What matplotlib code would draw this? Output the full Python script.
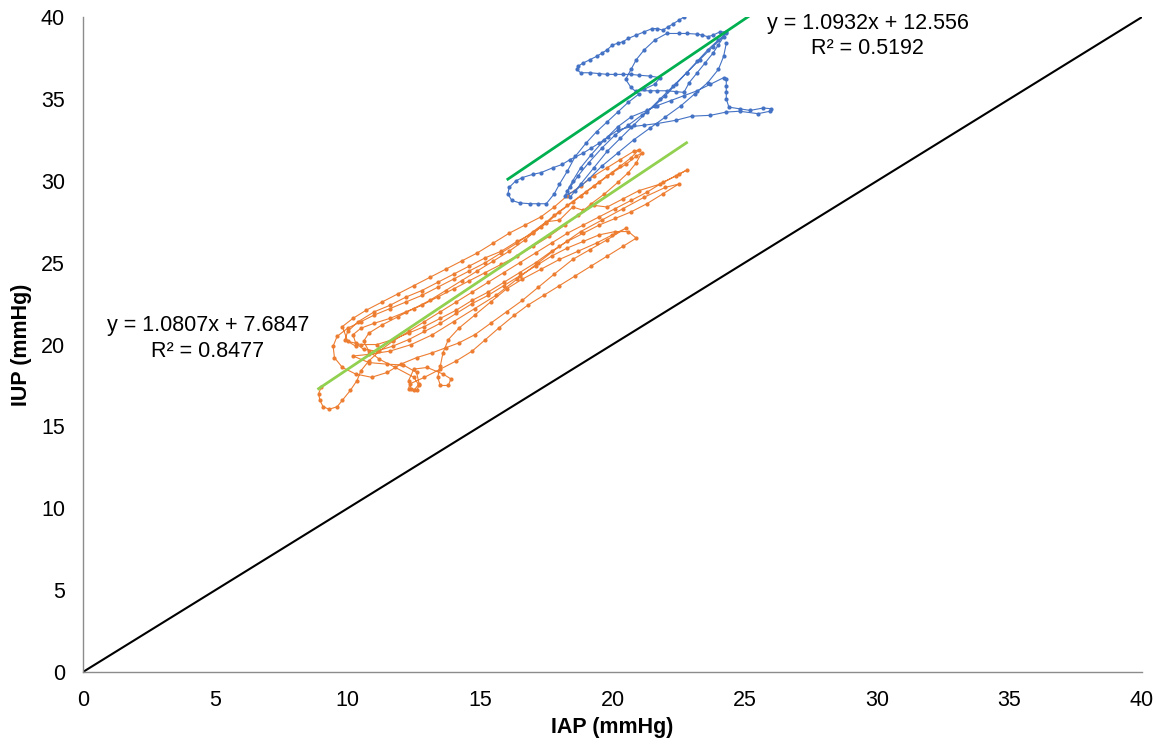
import matplotlib
matplotlib.use('Agg')
import matplotlib.pyplot as plt
import numpy as np

plt.rcParams['font.family'] = ['Liberation Sans', 'DejaVu Sans']

# IAP / IUP traces (mmHg)
blue_pts = [
    (22.7, 40.0), (22.5, 39.8), (22.3, 39.6), (22.1, 39.4), (21.9, 39.2), (21.7, 39.3), (21.5, 39.3),
    (21.2, 39.1), (20.9, 38.9), (20.6, 38.7), (20.4, 38.5), (20.2, 38.4), (20.0, 38.3), (19.8, 38.0),
    (19.6, 37.8), (19.4, 37.6), (19.15, 37.4), (18.9, 37.2), (18.7, 37.0), (18.66, 36.8), (18.8, 36.6),
    (19.15, 36.6), (19.5, 36.55), (19.8, 36.5), (20.1, 36.5), (20.4, 36.5), (20.7, 36.5), (21.0, 36.45),
    (21.4, 36.4), (21.8, 36.3), (21.6, 35.9), (21.2, 35.6), (20.9, 35.5), (21.4, 35.5), (21.7, 35.5),
    (22.05, 35.5), (22.4, 35.45), (22.7, 35.4), (22.9, 36.0), (23.2, 36.6), (23.5, 37.2), (23.8, 37.8),
    (24.0, 38.3), (24.2, 38.8), (24.3, 39.1), (24.06, 39.1), (23.8, 38.9), (23.6, 38.8), (23.4, 38.9),
    (23.2, 38.96), (22.8, 39.0), (22.5, 39.0), (22.05, 39.0), (21.6, 38.6), (21.2, 38.0), (20.9, 37.4),
    (20.7, 36.8), (20.5, 36.2), (20.7, 35.7), (21.0, 35.3), (20.6, 34.8), (20.2, 34.2), (19.8, 33.6),
    (19.4, 33.0), (19.0, 32.3), (18.6, 31.5), (18.3, 30.6), (18.0, 29.8), (17.8, 29.2), (17.5, 28.6),
    (17.2, 28.6), (16.9, 28.6), (16.5, 28.65), (16.2, 28.8), (16.05, 29.2), (16.1, 29.6), (16.35, 30.0),
    (16.6, 30.2), (17.0, 30.4), (17.3, 30.5), (17.75, 30.8), (18.1, 31.0), (18.4, 31.3), (18.9, 31.7),
    (19.2, 32.0), (19.5, 32.3), (19.85, 32.7), (20.2, 33.1), (20.7, 33.3), (21.2, 33.4), (21.7, 33.5),
    (22.4, 33.7), (23.0, 33.95), (23.7, 34.0), (24.3, 34.2), (24.8, 34.25), (25.5, 34.1), (25.95, 34.25),
    (26.0, 34.4), (25.7, 34.45), (25.2, 34.3), (24.8, 34.4), (24.4, 34.5), (24.3, 35.0), (24.3, 35.4),
    (24.3, 35.8), (24.3, 36.2), (24.2, 36.3), (23.7, 35.9), (23.2, 35.5), (22.7, 35.2), (22.2, 34.9),
    (21.7, 34.6), (21.3, 34.3), (20.7, 33.9), (20.2, 33.3), (19.7, 32.5), (19.2, 31.6), (18.8, 30.8),
    (18.5, 30.0), (18.3, 29.4), (18.4, 29.0), (18.8, 29.8), (19.3, 30.8), (19.8, 31.8), (20.3, 32.6),
    (20.8, 33.4), (21.3, 34.2), (21.8, 35.0), (22.3, 35.8), (22.8, 36.6), (23.3, 37.4), (23.8, 38.2),
    (24.3, 39.0), (24.0, 38.6), (23.6, 38.0), (23.2, 37.3), (22.8, 36.6), (22.4, 35.9), (22.0, 35.2),
    (21.6, 34.6), (21.1, 34.0), (20.6, 33.4), (20.1, 32.8), (19.6, 32.0), (19.1, 31.1), (18.7, 30.3),
    (18.4, 29.6), (18.2, 29.1), (18.6, 29.4), (19.1, 30.1), (19.6, 30.9), (20.2, 31.7), (20.8, 32.5),
    (21.4, 33.2), (22.0, 33.9), (22.6, 34.6), (23.1, 35.3), (23.6, 36.0), (24.0, 36.8), (24.2, 37.6),
    (24.3, 38.4),
]

orange_pts = [
    (9.0, 17.4), (8.9, 17.0), (8.95, 16.6), (9.07, 16.2), (9.3, 16.05), (9.6, 16.2), (9.8, 16.6),
    (10.1, 17.2), (10.35, 17.8), (10.5, 18.4), (10.8, 19.0), (11.2, 19.6), (11.7, 20.2), (12.3, 20.8),
    (12.9, 21.4), (13.5, 22.0), (14.1, 22.6), (14.7, 23.2), (15.3, 23.8), (15.9, 24.4), (16.5, 25.0),
    (17.1, 25.6), (17.7, 26.2), (18.3, 26.8), (18.9, 27.3), (19.5, 27.8), (20.1, 28.3), (20.7, 28.8),
    (21.3, 29.3), (21.9, 29.9), (22.4, 30.3), (22.8, 30.65),
    (22.5, 30.4), (21.8, 29.8), (21.0, 29.4), (20.4, 28.9), (19.8, 28.4), (19.3, 28.5), (18.9, 28.2),
    (18.5, 28.4), (18.0, 27.6), (17.5, 27.5), (17.0, 26.9), (16.4, 26.2), (15.8, 25.6), (15.2, 25.0),
    (14.6, 24.5), (14.0, 24.0), (13.4, 23.5), (12.8, 23.0), (12.2, 22.6), (11.6, 22.2), (11.0, 21.8),
    (10.5, 21.4), (10.0, 21.0), (9.6, 20.5), (9.45, 19.9), (9.5, 19.2), (9.8, 18.6), (10.3, 18.2),
    (10.9, 18.0), (11.5, 18.3), (12.0, 18.8),
    (12.6, 19.2), (13.2, 19.5), (13.7, 19.8), (14.2, 20.1), (14.8, 20.6), (15.4, 21.3), (16.0, 22.0),
    (16.6, 22.7), (17.2, 23.5), (17.8, 24.3), (18.5, 25.2), (19.15, 25.8), (19.8, 26.4), (20.5, 27.1),
    (20.0, 26.7), (19.4, 26.2), (18.7, 25.7), (18.0, 25.2), (17.3, 24.6), (16.6, 24.0), (16.0, 23.4),
    (15.4, 22.6), (14.8, 21.8), (14.2, 21.0), (13.8, 20.3), (13.6, 19.5), (13.5, 18.7), (13.4, 18.0),
    (13.5, 17.5), (13.8, 17.5), (13.9, 17.9), (13.6, 18.2), (13.0, 18.6), (12.5, 18.5), (12.3, 17.8),
    (12.4, 17.3), (12.6, 17.2), (12.7, 17.5), (12.5, 18.0),
    (11.8, 18.6), (11.2, 19.1), (10.8, 19.6), (10.6, 20.2), (10.8, 20.7), (11.3, 21.2), (11.9, 21.7),
    (12.5, 22.2), (13.1, 22.7), (13.7, 23.3), (14.3, 23.9), (14.9, 24.5), (15.5, 25.1), (16.1, 25.7),
    (16.7, 26.4), (17.3, 27.2), (17.8, 27.9), (18.3, 28.5), (18.8, 29.1), (19.3, 29.7), (19.8, 30.3),
    (20.3, 30.9), (20.7, 31.4), (21.0, 31.9),
    (20.8, 31.8), (20.3, 31.3), (19.8, 30.8), (19.3, 30.3), (18.8, 29.7), (18.3, 29.1), (17.8, 28.4),
    (17.3, 27.8), (16.7, 27.3), (16.1, 26.8), (15.5, 26.2), (14.9, 25.6), (14.3, 25.1), (13.7, 24.6),
    (13.1, 24.1), (12.5, 23.6), (11.9, 23.1), (11.3, 22.6), (10.7, 22.1), (10.2, 21.6), (9.8, 21.1),
    (10.0, 20.2), (10.5, 20.0), (11.1, 20.0), (11.7, 20.3), (12.3, 20.7), (12.9, 21.1), (13.5, 21.6),
    (14.1, 22.1), (14.7, 22.7), (15.3, 23.2), (15.9, 23.8), (16.5, 24.4), (17.1, 25.0), (17.7, 25.7),
    (18.3, 26.3), (18.9, 26.8), (19.5, 27.3), (20.1, 27.7), (20.7, 28.1), (21.3, 28.6), (21.9, 29.2),
    (22.5, 29.8),
    (22.0, 29.6), (21.2, 29.0), (20.4, 28.3), (19.6, 27.6), (18.8, 26.9), (18.0, 26.0), (17.2, 25.0),
    (16.4, 24.0), (15.6, 23.0), (14.8, 22.2), (14.0, 21.4), (13.2, 20.6), (12.4, 20.0), (11.6, 19.6),
    (10.8, 19.4), (10.2, 19.3),
    (10.8, 18.9), (11.5, 18.8), (12.1, 18.75), (12.6, 18.3), (12.7, 17.6), (12.5, 17.2), (12.3, 17.3),
    (12.35, 17.6), (12.9, 18.0), (13.5, 18.5), (14.1, 19.0), (14.7, 19.6), (15.2, 20.3), (15.7, 21.0),
    (16.3, 21.8), (16.8, 22.4), (17.4, 23.0), (18.0, 23.6), (18.6, 24.2), (19.2, 24.8), (19.8, 25.4),
    (20.4, 26.0), (20.9, 26.5),
    (20.6, 26.9), (20.1, 26.9), (19.5, 26.7), (18.9, 26.3), (18.3, 25.9), (17.7, 25.4), (17.1, 24.8),
    (16.5, 24.2), (15.9, 23.6), (15.3, 23.0), (14.7, 22.5), (14.1, 21.9), (13.5, 21.3), (12.9, 20.8),
    (12.3, 20.3), (11.7, 19.9), (11.1, 19.6), (10.6, 19.7), (10.3, 20.1), (10.2, 20.6), (10.5, 21.0),
    (11.0, 21.3), (11.6, 21.6), (12.2, 22.0), (12.8, 22.4), (13.4, 22.9), (14.0, 23.4), (14.6, 23.9),
    (15.2, 24.4), (15.8, 24.9), (16.4, 25.4), (17.0, 26.0), (17.6, 26.6), (18.2, 27.3), (18.7, 27.9),
    (19.2, 28.6), (19.7, 29.2), (20.2, 29.9), (20.6, 30.5), (20.9, 31.1), (21.1, 31.7),
    (20.9, 31.5), (20.5, 31.0), (20.0, 30.5), (19.5, 29.9), (19.0, 29.3), (18.5, 28.7), (18.0, 28.1),
    (17.5, 27.4), (17.0, 26.8), (16.4, 26.3), (15.8, 25.7), (15.2, 25.3), (14.6, 24.8), (14.0, 24.3),
    (13.4, 23.8), (12.8, 23.3), (12.2, 22.9), (11.6, 22.4), (11.0, 22.0), (10.4, 21.4), (10.0, 20.8),
    (9.9, 20.3), (10.3, 19.9),
]

# trendline coefficients as printed on the chart
blue_fit = (1.0932, 12.556, 0.5192)
orange_fit = (1.0807, 7.6847, 0.8477)

ticks = [0, 5, 10, 15, 20, 25, 30, 35, 40]

blue = np.array(blue_pts)
orange = np.array(orange_pts)

fig = plt.figure(figsize=(11.65, 7.4), dpi=100)
ax = fig.add_axes([0.0712, 0.0919, 0.909, 0.885])

# line of identity
ax.plot([0, 40], [0, 40], color='black', lw=1.5, zorder=1)

ax.plot(orange[:, 0], orange[:, 1], color='#ED7D31', lw=0.8,
        marker='o', ms=3, mew=0, zorder=2)
ax.plot(blue[:, 0], blue[:, 1], color='#4472C4', lw=0.8,
        marker='o', ms=3, mew=0, zorder=3)

# linear trendlines over each series' x range
bx = np.array([blue[:, 0].min(), blue[:, 0].max()])
ax.plot(bx, blue_fit[0] * bx + blue_fit[1], color='#00B050', lw=2, zorder=4)
ox = np.array([orange[:, 0].min(), orange[:, 0].max()])
ax.plot(ox, orange_fit[0] * ox + orange_fit[1], color='#92D050', lw=2, zorder=4)

ax.text(29.65, 38.85, 'y = {}x + {}\nR² = {}'.format(*blue_fit),
        ha='center', va='center', fontsize=15.5, linespacing=1.3, clip_on=False)
ax.text(4.72, 20.35, 'y = {}x + {}\nR² = {}'.format(*orange_fit),
        ha='center', va='center', fontsize=15.5, linespacing=1.3)

ax.set_xlim(0, 40)
ax.set_ylim(0, 40)
ax.set_xticks(ticks)
ax.set_yticks(ticks)
ax.tick_params(length=0, pad=13, labelsize=15.5)

for s in ['top', 'right']:
    ax.spines[s].set_visible(False)
for s in ['left', 'bottom']:
    ax.spines[s].set_color('#8C8C8C')
    ax.spines[s].set_linewidth(1)

ax.set_xlabel('IAP (mmHg)', fontsize=15.5, fontweight='bold', labelpad=4)
ax.set_ylabel('IUP (mmHg)', fontsize=15.5, fontweight='bold', labelpad=6)

fig.savefig('out.png', dpi=100)
